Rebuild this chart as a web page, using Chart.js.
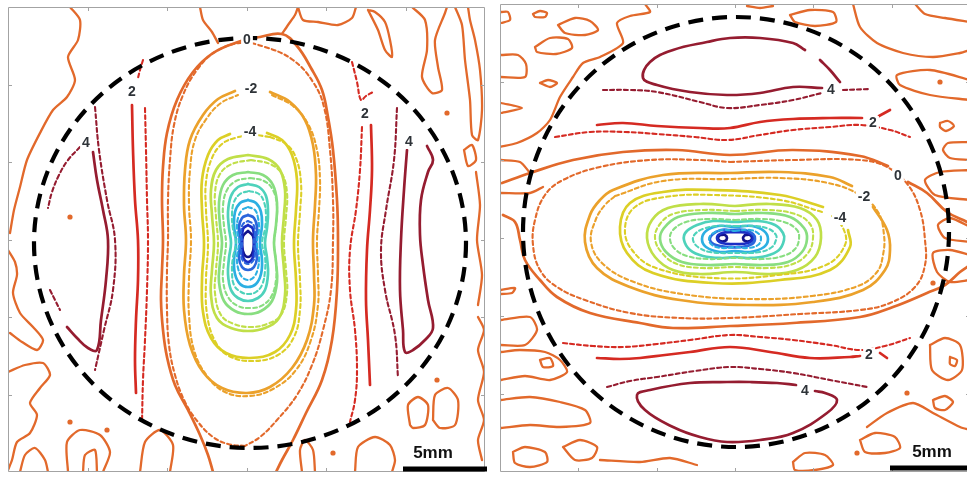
<!DOCTYPE html>
<html>
<head>
<meta charset="utf-8">
<script src="https://cdn.jsdelivr.net/npm/chart.js@4.4.0/dist/chart.umd.min.js"></script>
<style>
html,body{margin:0;padding:0;background:#fff;}
#wrap{position:relative;width:967px;height:481px;overflow:hidden;background:#fff;}
canvas{position:absolute;left:0;top:0;}
</style>
</head>
<body>
<div id="wrap">
<canvas id="panelA" width="967" height="481"></canvas>
<canvas id="panelB" width="975" height="481"></canvas>
</div>
<script>
// Contour lines are stored as flat [x, y, x, y, ...] lists in each panel's field coordinates.

// ---------- panel A (vertical pattern) ----------
const A_range = [8, 485, 7, 472];
const A_ticksX = [87.5, 167, 246.5, 326, 405.5];
const A_ticksY = [84.5, 162, 239.5, 317, 394.5];
const A_circle = [250, 243, 216, 205];
const A_bar = [403, 487, 469];

const A_L0 = [213,472, 208,455, 200,435, 188,410, 175,385, 167,357, 163,330, 161,300, 162,270, 163,240, 162,200, 163,167, 167,133, 177,100, 193,72, 213,53, 238,42, 260,37, 282,34, 297,46, 311,68, 322,90, 328,117, 333,150, 337,200, 338,240, 337,290, 332,340, 322,380, 306,413, 293,440, 282,460, 276,472];
const A_L0_d = [245,446, 228,444, 213,437, 198,422, 185,402, 175,375, 169,345, 167,310, 167,270, 168,240, 168,200, 170,160, 174,125, 183,95, 197,70, 215,52, 240,43, 265,47, 293,60, 313,82, 324,107, 330,150, 333,200, 333,240, 331,290, 323,330, 312,365, 297,395, 277,420, 260,437, 245,446];
const A_Lm2 = [270,92, 290,102, 305,120, 313,145, 316,175, 315,205, 313,240, 314,275, 314,305, 307,340, 292,368, 270,387, 247,393, 222,388, 203,372, 190,345, 184,310, 184,275, 186,240, 184,205, 185,170, 190,140, 203,115, 218,99, 235,91];
const A_Lm2_d = [272,95, 293,106, 308,124, 317,150, 320,180, 319,210, 317,240, 318,275, 318,305, 311,340, 296,370, 273,389, 249,396, 225,392, 207,376, 194,350, 189,315, 189,278, 191,240, 189,205, 190,170, 195,140, 207,118, 221,103, 238,95];
const A_Lm4 = [267,133, 282,140, 292,155, 297,180, 296,210, 294,244, 296,280, 296,310, 290,335, 275,352, 250,358, 226,353, 211,338, 203,312, 202,280, 204,244, 202,210, 202,180, 208,155, 218,140, 230,134];
const A_Lm4_d = [270,137, 286,144, 296,158, 301,183, 300,212, 298,244, 300,280, 300,310, 294,337, 278,355, 253,361, 229,356, 215,341, 207,314, 206,280, 208,244, 206,210, 206,182, 212,158, 222,144, 235,138, 252,135, 270,137];
const A_Lm6 = [248,155, 268,159, 280,170, 285,190, 284,215, 282,243, 284,270, 285,295, 279,318, 265,328, 248,331, 231,328, 217,318, 211,295, 212,270, 214,243, 212,215, 211,190, 216,170, 228,159, 248,155];
const A_Lm6_d = [251,160, 270,164, 282,174, 287,193, 286,217, 284,243, 286,270, 287,293, 281,315, 267,324, 251,327, 234,324, 221,315, 215,293, 216,270, 218,243, 216,217, 215,193, 220,174, 232,164, 251,160];
const A_Lm8 = [248,172, 263,175, 273,185, 277,203, 276,225, 274,243, 276,262, 277,282, 272,301, 261,311, 248,314, 235,311, 224,301, 219,282, 220,262, 222,243, 220,225, 219,203, 223,185, 233,175, 248,172];
const A_Lm8_d = [250,178, 264,181, 273,190, 277,206, 276,226, 274,243, 276,262, 276,280, 271,297, 261,306, 250,308, 238,306, 228,297, 223,280, 224,262, 226,243, 224,226, 223,206, 227,190, 236,181, 250,178];
const A_Lm10 = [248,184, 259,187, 266,196, 268,212, 267,228, 265,243, 267,258, 268,274, 265,290, 258,298, 248,301, 238,298, 231,290, 228,274, 229,258, 231,243, 229,228, 228,212, 231,196, 238,187, 248,184];
const A_Lm10_d = [249,191, 259,194, 264,202, 266,215, 265,229, 262,243, 265,257, 265,271, 262,285, 256,292, 249,294, 241,292, 234,285, 232,271, 233,257, 236,243, 233,229, 232,215, 234,202, 240,194, 249,191];
const A_Lm12 = [248,200, 256,203, 261,212, 262,225, 260,243, 262,260, 261,274, 256,284, 248,287, 240,284, 235,274, 234,260, 236,243, 234,225, 235,212, 240,203, 248,200];
const A_Lm12_d = [248,207, 255,210, 258,218, 259,229, 257,243, 259,257, 258,268, 254,277, 248,280, 242,277, 238,268, 237,257, 239,243, 237,229, 238,218, 242,210, 248,207];
const A_Lm14 = [248,215, 254,218, 257,227, 256,243, 257,258, 254,267, 248,270, 242,267, 239,258, 240,243, 239,227, 242,218, 248,215];
const A_Lm14_d = [248,221, 253,224, 255,232, 254,243, 255,254, 253,261, 248,264, 243,261, 241,254, 242,243, 241,232, 243,224, 248,221];
const A_Lm16 = [248,225, 253,229, 254,243, 253,257, 248,262, 243,257, 242,243, 243,229, 248,225];
const A_Lm18 = [248,231, 253,236, 254,245, 252,254, 248,257, 244,254, 242,245, 243,236, 248,231];

const A_L2_w = [132,105, 133,150, 135,200, 138,240, 138,280, 136,320, 135,360, 136,393];
const A_L2_w_d1 = [143,60, 140,70, 138,78];
const A_L2_w_d2 = [145,108, 146,150, 147,200, 148,240, 147,290, 145,340, 143,380, 142,422];
const A_L4_w = [93,152, 97,180, 103,210, 108,240, 106,280, 101,320, 97,350, 88,348, 77,338, 67,327];
const A_L4_w_d = [95,107, 99,150, 107,200, 115,240, 113,290, 104,330, 95,370];
const A_L4_w_d1 = [80,147, 68,160, 59,175, 52,192, 48,208];
const A_L4_w_d2 = [50,290, 55,300, 60,310];
const A_L2_e = [371,125, 372,170, 370,210, 367,250, 366,300, 368,340, 370,385];
const A_L2_e_d1 = [352,62, 357,82, 361,100, 366,96, 373,92];
const A_L2_e_d2 = [362,127, 360,170, 356,210, 350,250, 350,290, 355,330, 357,370, 355,400, 350,422];
const A_L4_e = [407,150, 404,190, 401,240, 400,290, 403,330, 405,352, 413,350, 425,340, 433,328, 428,300, 423,265, 420,235, 421,200, 428,172, 433,160, 427,146];
const A_L4_e_d = [397,108, 394,160, 386,210, 381,250, 385,290, 395,335, 398,378];

// background fluctuation contours (level 0) around the pattern
const A_N1 = [70,7, 80,20, 78,40, 68,57, 75,80, 67,97, 53,110, 40,133, 27,160, 20,187, 14,210, 10,233];
const A_N2 = [200,7, 203,20, 212,32, 218,43];
const A_N3 = [8,250, 15,262, 17,275, 13,293, 20,313, 33,327, 43,340, 37,350, 22,342, 10,333];
const A_N4 = [8,372, 25,365, 43,363, 50,375, 40,388, 30,403, 37,415, 30,433, 17,442, 12,460, 8,470];
const A_N5 = [68,472, 67,442, 80,430, 100,435, 110,452, 103,472];
const A_N6 = [83,472, 85,455, 95,450, 97,472];
const A_N7 = [140,472, 145,442, 160,430, 173,445, 170,472];
const A_N8 = [302,472, 300,450, 305,440, 313,450, 315,472];
const A_N9 = [355,472, 358,447, 375,437, 390,445, 395,460, 392,472];
const A_N10 = [410,425, 408,405, 418,397, 428,405, 425,425, 413,428, 410,425];
const A_N11 = [433,420, 435,395, 448,388, 458,400, 455,425, 440,428, 433,420];
const A_N12 = [478,317, 484,330, 478,350, 484,372, 478,400, 484,420, 478,440, 482,460];
const A_N13 = [282,34, 288,25, 295,15, 298,7];
const A_N14 = [298,7, 303,20, 318,22, 338,25, 352,18, 356,7];
const A_N15 = [368,10, 378,30, 385,50, 392,57, 390,40, 385,22, 375,12, 368,10];
const A_N16 = [412,7, 425,20, 427,50, 422,77, 432,93, 442,90, 438,67, 435,40, 445,13, 447,7];
const A_N17 = [455,7, 462,25, 465,60, 470,100, 472,135, 478,140, 482,110, 480,70, 475,40, 470,20, 468,7];
const A_N18 = [464,150, 472,145, 476,160, 468,166, 464,150];
const A_N19 = [476,172, 480,205, 477,240, 482,275, 478,305];
const A_N20 = [20,472, 25,455, 35,448, 45,460, 48,472];
const A_dots = [70,217, 70,422, 107,430, 333,453, 437,380, 447,113];

const A_labelText = ['0', '-2', '-4', '2', '4', '2', '4'];
const A_labelAt = [[247,40], [251,89], [250,132], [132,92], [86,143], [365,114], [409,142]];

// ---------- panel B (horizontal pattern) ----------
const B_range = [500, 970, 4, 472];
const B_ticksX = [578, 657, 735, 813, 892];
const B_ticksY = [82, 160, 238, 316, 394];
const B_circle = [736, 232, 213, 215];
const B_bar = [890, 967, 468];

const B_L0_a = [502,183, 530,173, 573,160, 623,152, 677,150, 730,155, 793,150, 860,156, 888,166];
const B_L0_b = [908,182, 927,193, 947,212, 967,222];
const B_L0_c = [503,215, 515,222, 520,240, 525,260, 540,280, 557,297, 590,313, 640,323, 673,328, 730,326, 793,323, 860,317, 893,307, 927,293, 945,285, 960,272, 970,265];
const B_L0_d = [730,162, 793,160, 860,160, 887,167, 908,185, 920,210, 925,240, 925,265, 915,287, 890,303, 860,310, 800,314, 730,318, 680,318, 630,313, 585,300, 557,287, 540,270, 533,245, 535,220, 545,195, 563,180, 600,167, 650,160, 700,160, 730,162];
const B_Lm2 = [873,207, 887,230, 890,250, 885,270, 863,290, 813,302, 747,305, 680,300, 630,287, 597,268, 585,242, 590,215, 600,200, 613,190, 663,175, 730,173, 780,172, 830,177, 852,186];
const B_Lm2_d = [615,196, 663,181, 730,179, 780,178, 828,183, 860,195, 878,212, 884,235, 883,255, 877,272, 858,286, 812,296, 747,299, 682,294, 634,282, 603,264, 591,242, 596,219, 605,205, 615,196];
const B_Lm4 = [848,230, 850,247, 830,270, 780,280, 713,283, 653,273, 627,253, 620,227, 630,203, 663,192, 713,190, 780,195, 823,207];
const B_Lm4_d = [822,212, 780,200, 713,195, 665,197, 635,207, 625,228, 632,250, 656,268, 713,278, 778,275, 826,265, 845,245, 843,228, 832,216];
const B_Lm6 = [735,206, 770,204, 800,208, 817,220, 821,238, 815,257, 797,270, 770,274, 735,272, 700,274, 673,270, 655,257, 647,238, 652,220, 668,208, 700,204, 735,206];
const B_Lm6_d = [735,211, 768,210, 795,214, 810,224, 813,238, 808,253, 793,264, 768,268, 735,267, 702,268, 677,264, 662,253, 655,238, 660,224, 673,214, 702,210, 735,211];
const B_Lm8 = [735,214, 763,213, 790,217, 804,228, 807,239, 802,252, 788,262, 763,265, 735,264, 707,265, 682,262, 666,252, 660,239, 664,228, 678,217, 707,213, 735,214];
const B_Lm8_d = [735,220, 762,219, 784,222, 797,230, 799,239, 795,249, 783,256, 762,259, 735,258, 708,259, 687,256, 675,249, 670,239, 673,230, 686,222, 708,219, 735,220];
const B_Lm10 = [735,222, 758,221, 775,225, 783,233, 784,240, 779,250, 766,256, 748,258, 735,257, 722,258, 703,256, 690,250, 684,240, 686,232, 697,225, 713,221, 735,222];
const B_Lm10_d = [735,226, 755,226, 769,229, 776,235, 776,240, 772,247, 760,252, 735,253, 710,252, 698,247, 693,240, 695,234, 703,229, 716,226, 735,226];
const B_Lm12 = [735,227, 752,226, 764,231, 768,239, 764,247, 750,252, 735,251, 720,252, 706,247, 702,239, 706,231, 718,226, 735,227];
const B_Lm12_d = [735,231, 750,230, 759,234, 761,239, 758,245, 748,248, 735,247, 722,248, 712,245, 709,239, 712,234, 722,230, 735,231];
const B_Lm14 = [730,230, 745,230, 753,234, 755,239, 752,244, 742,247, 728,247, 716,245, 710,240, 713,234, 721,230, 730,230];
const B_Lm16 = [735,232, 748,233, 753,238, 748,243, 735,244, 722,243, 717,238, 722,233, 735,232];
const B_Lm18_a = [720,235, 725,235, 727,238, 725,241, 720,241, 718,238, 720,235];
const B_Lm18_b = [745,235, 750,235, 752,238, 750,241, 745,241, 743,238, 745,235];

const B_L4_n = [805,50, 793,43, 760,38, 730,38, 707,42, 673,50, 650,62, 643,78, 657,85, 690,92, 727,95, 760,93, 793,87, 822,88];
const B_L4_n_b = [820,60, 830,70, 840,82];
const B_L4_n_d1 = [603,90, 630,90, 657,92, 700,102, 727,108, 760,105, 793,100, 822,93];
const B_L4_n_d2 = [843,90, 870,89];
const B_L2_n = [597,125, 623,123, 657,126, 700,128, 730,128, 760,122, 793,119, 830,118, 862,118];
const B_L2_n_b = [879,116, 890,110];
const B_L2_n_d = [555,137, 590,132, 625,132, 657,134, 695,137, 727,140, 760,135, 793,130, 830,127, 860,125, 890,130, 910,137];
const B_L2_s_d = [563,343, 593,346, 623,347, 657,344, 690,340, 730,335, 760,337, 793,340, 830,345, 860,350, 885,346, 910,338];
const B_L2_s = [597,358, 620,359, 640,358, 665,355, 690,352, 730,347, 770,352, 810,358, 850,357, 860,356];
const B_L2_s_b = [880,353, 887,358];
const B_L4_s_d = [607,387, 630,381, 657,377, 695,371, 730,367, 760,369, 793,373, 830,380, 867,387];
const B_L4_s = [796,385, 777,383, 750,382, 727,382, 690,383, 650,390, 637,395, 645,410, 673,427, 700,437, 727,442, 760,440, 793,433, 827,413, 837,400, 825,393, 815,391];

// background fluctuation contours (level 0)
const B_N1 = [645,4, 650,12, 630,16, 617,23, 623,43, 600,57, 583,63, 573,77, 560,97, 550,120, 537,133, 517,143, 500,147];
const B_N2 = [558,25, 575,18, 590,21, 598,30, 585,35, 565,33, 558,25];
const B_N3 = [535,47, 550,38, 568,39, 572,48, 556,54, 537,52, 535,47];
const B_N4 = [501,55, 518,55, 526,64, 525,77, 501,77];
const B_N5 = [533,14, 540,11, 547,13, 545,17, 535,17, 533,14];
const B_N6 = [501,12, 508,12, 510,20, 501,23];
const B_N7 = [540,83, 548,80, 557,83, 550,87, 540,83];
const B_N8 = [501,103, 522,108, 501,113];
const B_N9 = [501,160, 520,162, 530,173];
const B_N10 = [501,193, 530,193, 543,187];
const B_N11 = [747,6, 760,8, 773,6];
const B_N12 = [790,15, 810,10, 833,12, 836,22, 815,26, 795,22, 790,15];
const B_N13 = [853,4, 860,27, 877,43, 903,53, 933,57, 960,53, 970,50];
const B_N14 = [915,4, 925,14, 945,18, 970,22];
const B_N15 = [970,80, 930,70, 897,75, 900,85, 930,95, 970,100];
const B_N16 = [940,123, 948,121, 954,126, 946,131, 940,127, 940,123];
const B_N17 = [970,142, 948,143, 943,150, 950,158, 970,160];
const B_N18 = [970,170, 940,172, 925,180, 935,195, 970,200];
const B_N19 = [970,227, 950,218, 938,225, 945,238, 970,242];
const B_N20 = [970,255, 950,250, 933,253, 937,272, 950,282, 970,280];
const B_N21 = [930,345, 945,338, 960,345, 962,370, 948,380, 932,370, 930,345];
const B_N22 = [950,357, 957,360, 955,366, 950,364, 950,357];
const B_N23 = [933,400, 945,396, 953,402, 945,410, 935,408, 933,400];
const B_N24 = [867,427, 887,413, 913,403, 933,413, 960,427, 970,430];
const B_N25 = [860,440, 875,433, 895,437, 900,448, 885,453, 865,452, 860,440];
const B_N26 = [793,462, 805,453, 825,455, 833,465, 815,470, 795,470, 793,462];
const B_N27 = [501,290, 515,288, 512,293, 501,294];
const B_N28 = [501,320, 530,317, 537,330, 525,345, 501,345];
const B_N29 = [501,352, 520,350, 545,352, 560,360, 567,372, 550,380, 525,376, 501,380];
const B_N30 = [540,360, 550,358, 553,366, 543,367, 540,360];
const B_N31 = [501,400, 530,397, 560,402, 585,410, 590,423, 560,427, 530,425, 501,428];
const B_N32 = [513,452, 525,447, 545,452, 547,462, 530,467, 515,463, 513,452];
const B_N33 = [563,447, 580,440, 597,447, 592,458, 575,460, 563,447];
const B_N34 = [600,460, 640,462, 670,458, 697,465];
const B_dots = [940,82, 933,283, 907,393, 857,453];

const B_labelText = ['4', '2', '0', '-2', '-4', '2', '4'];
const B_labelAt = [[831,90], [873,123], [898,176], [864,197], [840,218], [869,355], [805,391]];

const scaleText = '5mm';

// ---------- styling ----------
const LEVEL_COLOR = {
  '4': '#951c30', '2': '#d52a22', '0': '#e2692b', '-2': '#eba12b', '-4': '#dccf26',
  '-6': '#c0df48', '-8': '#88de80', '-10': '#4ed2bb', '-12': '#2cafe2', '-14': '#2b66dc',
  '-16': '#1b2ec4', '-18': '#13148c'
};

const A_series = [
  [A_N1,0,'n'],[A_N2,0,'n'],[A_N3,0,'n'],[A_N4,0,'n'],[A_N5,0,'n'],[A_N6,0,'n'],[A_N7,0,'n'],
  [A_N8,0,'n'],[A_N9,0,'n'],[A_N10,0,'n'],[A_N11,0,'n'],[A_N12,0,'n'],[A_N13,0,'n'],[A_N14,0,'n'],
  [A_N15,0,'n'],[A_N16,0,'n'],[A_N17,0,'n'],[A_N18,0,'n'],[A_N19,0,'n'],[A_N20,0,'n'],
  [A_L0,0,'s'],[A_L0_d,0,'d'],[A_Lm2,-2,'s'],[A_Lm2_d,-2,'d'],[A_Lm4,-4,'s'],[A_Lm4_d,-4,'d'],
  [A_Lm6,-6,'s'],[A_Lm6_d,-6,'d'],[A_Lm8,-8,'s'],[A_Lm8_d,-8,'d'],[A_Lm10,-10,'s'],[A_Lm10_d,-10,'d'],
  [A_Lm12,-12,'s'],[A_Lm12_d,-12,'d'],[A_Lm14,-14,'s'],[A_Lm14_d,-14,'d'],[A_Lm16,-16,'s'],[A_Lm18,-18,'s'],
  [A_L2_w,2,'s'],[A_L2_w_d1,2,'d'],[A_L2_w_d2,2,'d'],[A_L4_w,4,'s'],[A_L4_w_d,4,'d'],[A_L4_w_d1,4,'d'],[A_L4_w_d2,4,'d'],
  [A_L2_e,2,'s'],[A_L2_e_d1,2,'d'],[A_L2_e_d2,2,'d'],[A_L4_e,4,'s'],[A_L4_e_d,4,'d']
];

const B_series = [
  [B_N1,0,'n'],[B_N2,0,'n'],[B_N3,0,'n'],[B_N4,0,'n'],[B_N5,0,'n'],[B_N6,0,'n'],[B_N7,0,'n'],[B_N8,0,'n'],
  [B_N9,0,'n'],[B_N10,0,'n'],[B_N11,0,'n'],[B_N12,0,'n'],[B_N13,0,'n'],[B_N14,0,'n'],[B_N15,0,'n'],[B_N16,0,'n'],
  [B_N17,0,'n'],[B_N18,0,'n'],[B_N19,0,'n'],[B_N20,0,'n'],[B_N21,0,'n'],[B_N22,0,'n'],[B_N23,0,'n'],[B_N24,0,'n'],
  [B_N25,0,'n'],[B_N26,0,'n'],[B_N27,0,'n'],[B_N28,0,'n'],[B_N29,0,'n'],[B_N30,0,'n'],[B_N31,0,'n'],[B_N32,0,'n'],
  [B_N33,0,'n'],[B_N34,0,'n'],
  [B_L0_a,0,'s'],[B_L0_b,0,'s'],[B_L0_c,0,'s'],[B_L0_d,0,'d'],[B_Lm2,-2,'s'],[B_Lm2_d,-2,'d'],[B_Lm4,-4,'s'],[B_Lm4_d,-4,'d'],
  [B_Lm6,-6,'s'],[B_Lm6_d,-6,'d'],[B_Lm8,-8,'s'],[B_Lm8_d,-8,'d'],[B_Lm10,-10,'s'],[B_Lm10_d,-10,'d'],
  [B_Lm12,-12,'s'],[B_Lm12_d,-12,'d'],[B_Lm14,-14,'s'],[B_Lm16,-16,'s'],[B_Lm18_a,-18,'s'],[B_Lm18_b,-18,'s'],
  [B_L4_n,4,'s'],[B_L4_n_b,4,'s'],[B_L4_n_d1,4,'d'],[B_L4_n_d2,4,'d'],[B_L2_n,2,'s'],[B_L2_n_b,2,'s'],[B_L2_n_d,2,'d'],
  [B_L2_s_d,2,'d'],[B_L2_s,2,'s'],[B_L2_s_b,2,'s'],[B_L4_s_d,4,'d'],[B_L4_s,4,'s']
];

function toPoints(flat) {
  const pts = [];
  for (let i = 0; i < flat.length; i += 2) pts.push({x: flat[i], y: flat[i + 1]});
  return pts;
}

function buildDatasets(series, dots) {
  const sets = series.map(([flat, level, kind]) => ({
    data: toPoints(flat),
    showLine: true,
    borderColor: LEVEL_COLOR[String(level)],
    borderWidth: kind === 'd' ? 2.1 : (kind === 'n' ? 2.3 : 2.7),
    borderDash: kind === 'd' ? [4, 3] : [],
    borderCapStyle: 'round',
    borderJoinStyle: 'round',
    pointRadius: 0,
    tension: kind === 'n' ? 0.25 : 0.4,
    fill: false
  }));
  sets.push({
    data: toPoints(dots),
    showLine: false,
    pointRadius: 2.6,
    pointBorderWidth: 0,
    pointBackgroundColor: LEVEL_COLOR['0']
  });
  return sets;
}

// Frame, inward ticks, dashed reference circle, contour labels and the scale bar.
const panelDecor = {
  id: 'panelDecor',
  afterDatasetsDraw(chart, args, opts) {
    const {ctx, chartArea: a, scales: {x, y}} = chart;
    ctx.save();

    const [cx, cy, rx, ry] = opts.circle;
    const pcx = x.getPixelForValue(cx), pcy = y.getPixelForValue(cy);
    ctx.beginPath();
    ctx.ellipse(pcx, pcy,
      Math.abs(x.getPixelForValue(cx + rx) - pcx),
      Math.abs(y.getPixelForValue(cy + ry) - pcy), 0, 0, Math.PI * 2);
    ctx.setLineDash([15, 9]);
    ctx.lineWidth = 4.2;
    ctx.strokeStyle = '#000';
    ctx.stroke();
    ctx.setLineDash([]);

    ctx.font = 'bold 14px "Liberation Sans", Arial, sans-serif';
    ctx.textAlign = 'center';
    ctx.textBaseline = 'middle';
    opts.labelText.forEach((t, i) => {
      const px = x.getPixelForValue(opts.labelAt[i][0]);
      const py = y.getPixelForValue(opts.labelAt[i][1]);
      const w = ctx.measureText(t).width;
      ctx.fillStyle = '#fff';
      ctx.fillRect(px - w / 2 - 2, py - 7, w + 4, 14);
      ctx.fillStyle = '#2e3338';
      ctx.fillText(t, px, py);
    });

    ctx.strokeStyle = '#a3a3a3';
    ctx.lineWidth = 1;
    ctx.beginPath();
    ctx.rect(Math.round(a.left) + 0.5, Math.round(a.top) + 0.5, Math.round(a.width) - 1, Math.round(a.height) - 1);
    opts.ticksX.forEach(v => {
      const px = Math.round(x.getPixelForValue(v)) + 0.5;
      ctx.moveTo(px, a.top); ctx.lineTo(px, a.top + 4);
      ctx.moveTo(px, a.bottom); ctx.lineTo(px, a.bottom - 4);
    });
    opts.ticksY.forEach(v => {
      const py = Math.round(y.getPixelForValue(v)) + 0.5;
      ctx.moveTo(a.left, py); ctx.lineTo(a.left + 4, py);
      ctx.moveTo(a.right, py); ctx.lineTo(a.right - 4, py);
    });
    ctx.stroke();

    const [b0, b1, by] = opts.bar;
    const bx0 = x.getPixelForValue(b0), bx1 = x.getPixelForValue(b1), bpy = y.getPixelForValue(by);
    ctx.fillStyle = '#000';
    ctx.fillRect(bx0, bpy - 2.5, bx1 - bx0, 5);
    ctx.font = 'bold 17px "Liberation Sans", Arial, sans-serif';
    ctx.textAlign = 'center';
    ctx.textBaseline = 'alphabetic';
    ctx.fillStyle = '#111';
    ctx.fillText(opts.barText, opts.barTextX === undefined ? (bx0 + bx1) / 2 : x.getPixelForValue(opts.barTextX), bpy - 11);
    ctx.restore();
  }
};

function makePanel(canvasId, range, series, dots, padding, decor) {
  return new Chart(document.getElementById(canvasId), {
    type: 'scatter',
    data: {datasets: buildDatasets(series, dots)},
    options: {
      responsive: false,
      animation: false,
      devicePixelRatio: 1,
      events: [],
      layout: {padding},
      plugins: {legend: {display: false}, tooltip: {enabled: false}, panelDecor: decor},
      scales: {
        x: {type: 'linear', display: false, min: range[0], max: range[1]},
        y: {type: 'linear', display: false, reverse: true, min: range[2], max: range[3]}
      }
    },
    plugins: [panelDecor]
  });
}

makePanel('panelA', A_range, A_series, A_dots,
  {left: 8, top: 7, right: 967 - 485, bottom: 481 - 472},
  {circle: A_circle, labelText: A_labelText, labelAt: A_labelAt, ticksX: A_ticksX, ticksY: A_ticksY,
   bar: A_bar, barText: scaleText, barTextX: 433});

makePanel('panelB', B_range, B_series, B_dots,
  {left: 500, top: 4, right: 975 - 970, bottom: 481 - 472},
  {circle: B_circle, labelText: B_labelText, labelAt: B_labelAt, ticksX: B_ticksX, ticksY: B_ticksY,
   bar: B_bar, barText: scaleText, barTextX: 932});
</script>
</body>
</html>
